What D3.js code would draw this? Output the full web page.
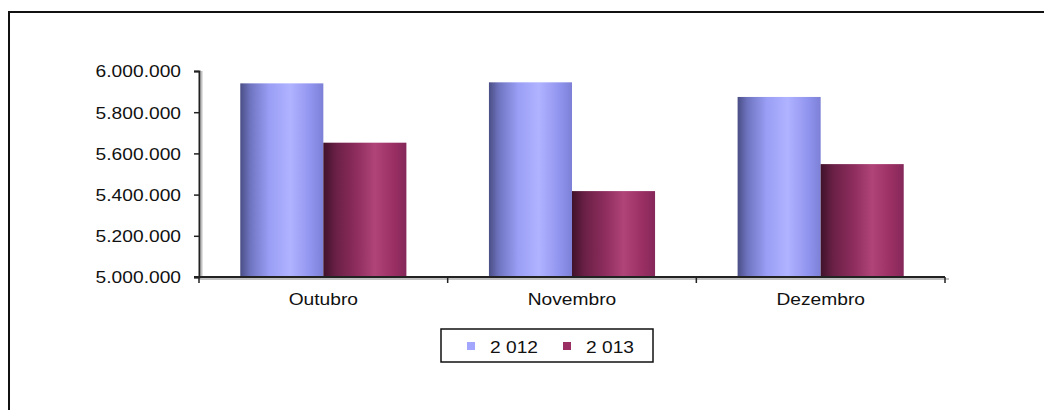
<!DOCTYPE html>
<html><head><meta charset="utf-8">
<script src="https://cdn.jsdelivr.net/npm/d3@7"></script>
<style>body{margin:0;background:#fff}svg{display:block}text{font-family:"Liberation Sans",Arial,sans-serif;fill:#111}</style>
</head><body><svg id="c" width="1044" height="410"></svg>
<script>
const categories = ["Outubro", "Novembro", "Dezembro"];
const seriesNames = ["2 012", "2 013"];
const values2012 = [5940000, 5945000, 5874000];
const values2013 = [5652000, 5417000, 5548000];
const yTicks = [5000000, 5200000, 5400000, 5600000, 5800000, 6000000];

const svg = d3.select("#c");
const SX = 1.13;
const FS = 17;

// frame
svg.append("rect").attr("x",9).attr("y",12).attr("width",1100).attr("height",500).attr("fill","none").attr("stroke","#111").attr("stroke-width",2);

const defs = svg.append("defs");
function grad(id, stops){ const g=defs.append("linearGradient").attr("id",id).attr("x1","0").attr("x2","1").attr("y1","0").attr("y2","0"); stops.forEach(s=>g.append("stop").attr("offset",s[0]).attr("stop-color",s[1])); }
grad("gb",[[0,"#4a4e86"],[0.12,"#6f74c0"],[0.35,"#9a9ef5"],[0.6,"#b0b3ff"],[0.85,"#9194ee"],[1,"#7d80d6"]]);
grad("gr",[[0,"#40122a"],[0.15,"#6a2046"],[0.4,"#8e2d5e"],[0.62,"#b04478"],[0.85,"#9a2f63"],[1,"#85285a"]]);

const x0 = d3.scaleBand().domain(categories).range([199,945]).paddingInner(0.332).paddingOuter(0.166);
const x1 = d3.scaleBand().domain(seriesNames).range([0,x0.bandwidth()]);
const y = d3.scaleLinear().domain([5000000,6000000]).range([277,71]);
const fmt = v => d3.format(",")(v).replace(/,/g,".");

const data = categories.map((c,i)=>({c, vals:[values2012[i], values2013[i]]}));
const g = svg.append("g");
data.forEach(d=>{
  d.vals.forEach((v,j)=>{
    g.append("rect").attr("x",x0(d.c)+x1(seriesNames[j])).attr("y",y(v)).attr("width",x1.bandwidth()).attr("height",y(5000000)-y(v))
     .attr("fill",j===0?"url(#gb)":"url(#gr)");
  });
});

// y axis
const ya = svg.append("g").attr("transform","translate(199,0)").call(d3.axisLeft(y).tickValues(yTicks).tickSize(5).tickPadding(13).tickFormat(fmt));
ya.select(".domain").attr("stroke","#222").attr("stroke-width",2);
ya.selectAll(".tick line").attr("stroke","#222").attr("stroke-width",1.5);
ya.selectAll("text").attr("font-size",FS).attr("fill","#111").attr("font-family","Liberation Sans, Arial, sans-serif");
ya.selectAll(".tick text").each(function(){ const t=d3.select(this); t.attr("transform",`translate(-18,0) scale(${SX},1)`).attr("x",0).attr("dy","0.35em"); });
svg.append("line").attr("x1",201.5).attr("x2",201.5).attr("y1",71).attr("y2",277).attr("stroke","#999").attr("stroke-width",2).attr("opacity",0.6);

// x axis
const xa = svg.append("g").attr("transform","translate(0,277)");
xa.append("line").attr("x1",199).attr("x2",949).attr("y1",2).attr("y2",2).attr("stroke","#999").attr("stroke-width",2).attr("opacity",0.6);
xa.append("line").attr("x1",194).attr("x2",945).attr("y1",0).attr("y2",0).attr("stroke","#222").attr("stroke-width",2);
const bounds = [x0.range()[0]].concat(categories.map(c=>x0(c)+x0.bandwidth()+x0.step()*x0.paddingInner()/2));
bounds[bounds.length-1]=945;
bounds.forEach(b=>xa.append("line").attr("x1",b).attr("x2",b).attr("y1",0).attr("y2",6).attr("stroke","#222").attr("stroke-width",1.5));
categories.forEach(c=>{
  xa.append("text").attr("text-anchor","middle").attr("font-size",FS)
    .attr("transform",`translate(${x0(c)+x0.bandwidth()/2},${27.5}) scale(${SX},1)`).text(c);
});

// legend
const lg = svg.append("g");
lg.append("rect").attr("x",441).attr("y",329).attr("width",212).attr("height",33).attr("fill","#fff").attr("stroke","#111").attr("stroke-width",1.5);
const lx = [467, 563];
const lcol = ["#a3a6ff","#9a2f63"];
seriesNames.forEach((s,i)=>{
  lg.append("rect").attr("x",lx[i]).attr("y",342).attr("width",8).attr("height",8).attr("fill",lcol[i]);
  lg.append("text").attr("font-size",FS).attr("transform",`translate(${lx[i]+23},${352.5}) scale(${SX},1)`).text(s);
});
</script></body></html>
